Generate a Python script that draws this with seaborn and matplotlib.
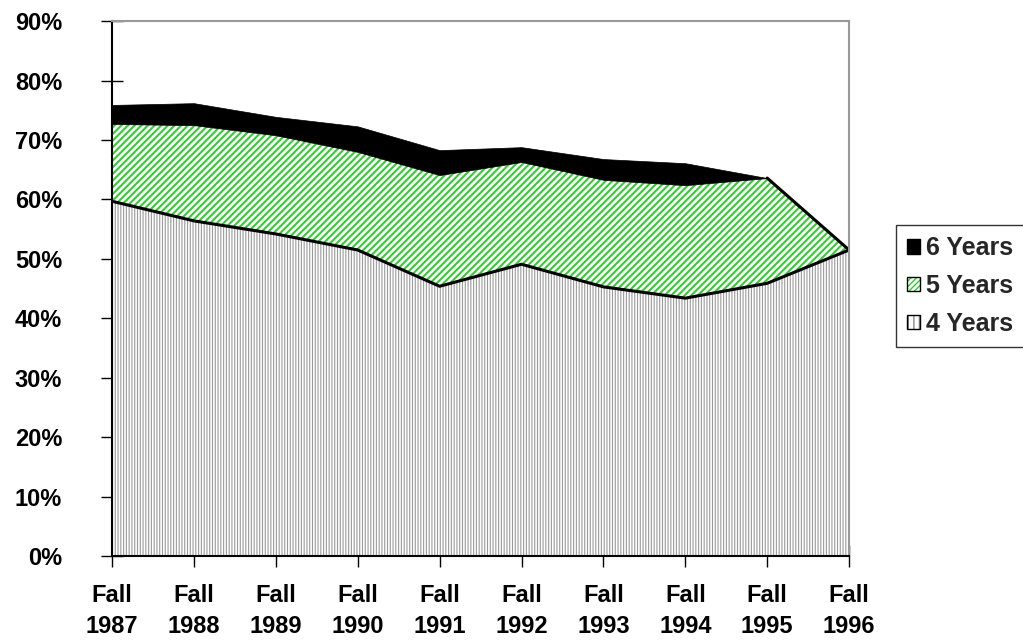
import pandas as pd
import matplotlib.pyplot as plt
import seaborn as sns
from matplotlib.patches import Patch

years = ['1987', '1988', '1989', '1990', '1991', '1992', '1993', '1994', '1995', '1996']
# cumulative graduation rates (%)
four_years = [59.7, 56.4, 54.2, 51.5, 45.4, 49.1, 45.3, 43.4, 45.9, 51.5]
five_years = [72.7, 72.5, 70.8, 68.0, 64.1, 66.3, 63.3, 62.4, 63.6, 51.5]
six_years = [75.9, 76.2, 73.9, 72.3, 68.3, 68.8, 66.8, 66.1, 63.6, 51.5]
y_ticks = [0, 10, 20, 30, 40, 50, 60, 70, 80, 90]

df = pd.DataFrame({'x': range(len(years)), 'four': four_years,
                   'five': five_years, 'six': six_years})

sns.set_style('white')
plt.rcParams['font.family'] = ['Liberation Sans', 'DejaVu Sans']
plt.rcParams['font.weight'] = 'bold'

fig = plt.figure(figsize=(10.23, 6.4), dpi=100)
ax = fig.add_axes([0.1095, 0.131, 0.7205, 0.836])

plt.rcParams['hatch.linewidth'] = 0.8
ax.fill_between(df['x'], 0, df['four'], facecolor='white', edgecolor='#9a9a9a',
                hatch='||||||', linewidth=0)
plt.rcParams['hatch.linewidth'] = 1.5
ax.fill_between(df['x'], df['four'], df['five'], facecolor='white', edgecolor='#33cc33',
                hatch='/////', linewidth=0)
ax.fill_between(df['x'], df['five'], df['six'], facecolor='black', edgecolor='black',
                linewidth=0.5)

sns.lineplot(data=df, x='x', y='four', color='black', linewidth=2.2, ax=ax)
sns.lineplot(data=df.iloc[-2:], x='x', y='five', color='black', linewidth=2.2, ax=ax)

ax.set_xlim(0, len(years) - 1)
ax.set_ylim(0, 90)
ax.set_xticks(df['x'])
ax.set_xticklabels(['Fall\n' + y for y in years], fontsize=17, fontweight='bold',
                   linespacing=1.45)
ax.set_yticks(y_ticks)
ax.set_yticklabels([f'{v}%' for v in y_ticks], fontsize=17, fontweight='bold')
ax.tick_params(axis='both', direction='inout', length=16, width=1, colors='black',
               left=True, bottom=True)
ax.tick_params(axis='x', pad=12)
ax.tick_params(axis='y', pad=28)
ax.set_xlabel('')
ax.set_ylabel('')

for side in ['left', 'bottom']:
    ax.spines[side].set_color('black')
    ax.spines[side].set_linewidth(1.5)
for side in ['top', 'right']:
    ax.spines[side].set_color('#999999')
    ax.spines[side].set_linewidth(1.5)

border = dict(facecolor='none', edgecolor='black', linewidth=1)
plt.rcParams['hatch.linewidth'] = 1.0
handles = [
    Patch(facecolor='black', edgecolor='black'),
    (Patch(facecolor='white', edgecolor='#33cc33', hatch='//////', linewidth=0),
     Patch(**border)),
    (Patch(facecolor='white', edgecolor='#888888', hatch='|||', linewidth=0),
     Patch(**border)),
]
labels = ['6 Years', '5 Years', '4 Years']
leg = fig.legend(handles, labels, loc='center left', bbox_to_anchor=(0.876, 0.553),
                 frameon=True, fancybox=False, edgecolor='black',
                 prop={'weight': 'bold', 'size': 18}, handlelength=0.5,
                 handleheight=0.5, handletextpad=0.25, labelspacing=0.55,
                 borderpad=0.45, borderaxespad=0)
leg.get_frame().set_linewidth(1)

plt.savefig('out.png', dpi=100)
plt.close()
